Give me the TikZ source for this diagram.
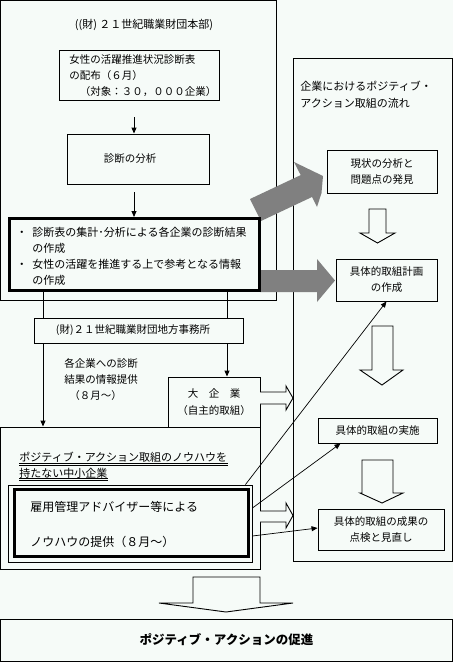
\documentclass[tikz,border=0pt]{standalone}
\usepackage{fontspec}
\setmainfont{Noto Sans CJK JP}
\usetikzlibrary{arrows.meta,calc}
\definecolor{bg}{RGB}{246,251,248}
\newcommand\szA{\fontsize{10.5pt}{16pt}\selectfont}
\newcommand\szB{\fontsize{11pt}{16pt}\selectfont}
\newcommand\szC{\fontsize{12pt}{16pt}\selectfont}
\newcommand\szD{\fontsize{11pt}{17pt}\selectfont}
\newcommand\szE{\fontsize{12.5pt}{16pt}\selectfont}
\begin{document}
\begin{tikzpicture}[x=1pt,y=-1pt,line width=0.9pt,
  frame/.style={draw,fill=bg,inner sep=0pt},
  txt/.style={inner sep=0pt,align=left,font=\szB},
  ctxt/.style={inner sep=0pt,align=center,font=\szA},
  arr/.style={-{Triangle[length=6pt,width=5pt]}},
  hollow/.style={draw,fill=bg,line join=miter},
  hatched/.style={fill=black!50}]
\useasboundingbox (0,0) rectangle (453,662);
\fill[bg] (0,0) rectangle (453,662);

% outer frames
\node[frame,minimum width=276pt,minimum height=300pt] (top) at (138.5,150.5) {};
\node[frame,minimum width=159pt,minimum height=503pt] (rfr) at (372.5,309.5) {};
\node[frame,minimum width=260pt,minimum height=142pt] (low) at (130.5,498) {};
\node[frame,ctxt,font=\szE\bfseries,minimum width=452pt,minimum height=42pt] (bot) at (226.5,640) {ポジティブ・アクションの促進};

% hatched block arrows
\path[hatched] (250,199) -- (300.7,175.1) -- (294,162) -- (323,176) -- (321.5,193) -- (317,207) -- (312,197) -- (261,221) -- cycle;
\path[hatched] (260,270) -- (317,270) -- (317,259) -- (335,280.5) -- (317,302) -- (317,292) -- (260,292) -- cycle;

% headquarters part
\node[txt] (hq) at (144,25) {((財)\ ２１世紀職業財団本部)};
\node[frame,minimum width=160pt,minimum height=50pt] (b1) at (139,75) {};
\node[txt,font=\szA,anchor=west] (b1t) at (69,76) {女性の活躍推進状況診断表\\の配布（６月）\\　（対象：３０，０００企業）};
\node[frame,minimum width=142pt,minimum height=50pt] (b2) at (138,159) {};
\node[txt,font=\szA] (b2t) at (130,159) {診断の分析};
\node[frame,line width=3pt,minimum width=250pt,minimum height=72pt] (b3) at (134.5,254.5) {};
\node[txt,anchor=west] (b3t) at (16,256) {\makebox[16pt][l]{・}診断表の集計･分析による各企業の診断結果\\\hspace*{16pt}の作成\\\makebox[16pt][l]{・}女性の活躍を推進する上で参考となる情報\\\hspace*{16pt}の作成};

\coordinate (p1) at (134,117);
\draw[arr] (p1) -- (p1 |- b2.north);
\coordinate (p2) at (134,192);
\draw[arr] (p2) -- (p2 |- b3.north);

% regional office
\node[frame,minimum width=209pt,minimum height=25pt] (reg) at (138.5,330.5) {};
\node[txt,font=\szA] (regt) at (133,330.5) {(財)２１世紀職業財団地方事務所};
\node[txt,font=\szA,anchor=west] (info) at (64,380) {各企業への診断\\結果の情報提供\\\hspace*{5pt}（８月～）};
\node[frame,ctxt,font={\fontsize{10.5pt}{17pt}\selectfont},minimum width=92pt,minimum height=50pt] (big) at (214,402) {大　企　業\\（自主的取組）};

\coordinate (xl) at (43,0);
\coordinate (xr) at (227,0);
\draw (xl |- b3.south) -- (xl |- reg.north);
\draw[arr] (xl |- reg.south) -- (xl |- low.north);
\draw (xr |- b3.south) -- (xr |- reg.north);
\draw[arr] (xr |- reg.south) -- (xr |- big.north);

% small and medium enterprises
\node[txt,anchor=west] (sme1) at (19,457) {ポジティブ・アクション取組のノウハウを};
\node[txt,anchor=west] (sme2) at (19,473) {持たない中小企業};
\draw[line width=0.7pt] ([yshift=-6pt]sme1.west) -- ([yshift=-6pt]sme1.east);
\draw[line width=0.7pt] ([yshift=-8.2pt]sme1.west) -- ([yshift=-8.2pt]sme1.east);
\draw[line width=0.7pt] ([yshift=-5.5pt]sme2.west) -- ([yshift=-5.5pt]sme2.east);
\draw[line width=0.7pt] ([yshift=-7.7pt]sme2.west) -- ([yshift=-7.7pt]sme2.east);
\node[frame,minimum width=243.5pt,minimum height=77pt] (adv) at (130.25,523.5) {};
\node[draw,line width=3pt,inner sep=0pt,minimum width=234pt,minimum height=67pt] (advin) at (131,523.3) {};
\node[txt,font=\szC,anchor=west] (advt1) at (30,507) {雇用管理アドバイザー等による};
\node[txt,font=\szC,anchor=west] (advt2) at (30,542) {ノウハウの提供（８月～）};

% right flow
\node[txt,font=\szD,anchor=west] (flow) at (300,94.5) {企業におけるポジティブ・\\アクション取組の流れ};
\node[frame,ctxt,minimum width=110pt,minimum height=43pt] (r1) at (382,171.5) {現状の分析と\\問題点の発見};
\node[frame,ctxt,minimum width=101pt,minimum height=42pt] (r2) at (386.5,280) {具体的取組計画\\の作成};
\node[frame,ctxt,minimum width=119pt,minimum height=25pt] (r3) at (377.5,430.5) {具体的取組の実施};
\node[frame,ctxt,minimum width=126pt,minimum height=41pt] (r4) at (381,529.5) {具体的取組の成果の\\点検と見直し};

% hollow arrows
\draw[hollow] (369,209) -- (386,209) -- (386,233) -- (395,233) -- (377.5,243) -- (360,233) -- (369,233) -- cycle;
\draw[hollow] (372,326) -- (393,326) -- (393,370) -- (403,370) -- (382,385) -- (360,370) -- (372,370) -- cycle;
\draw[hollow] (362,460) -- (393,460) -- (393,493) -- (403,493) -- (382,503) -- (360,493) -- (362,493) -- cycle;
\draw[hollow] (193,577) -- (260,577) -- (260,603) -- (293,603) -- (226,612) -- (159,603) -- (193,603) -- cycle;
\draw[hollow] (260,392) -- (286,392) -- (286,386) -- (293,398) -- (286,410) -- (286,404) -- (260,404);
\draw[hollow] (260,511) -- (286,511) -- (286,503) -- (293,515.5) -- (286,528) -- (286,522) -- (260,522);

% thin connectors
\draw[arr,line width=0.7pt] ([xshift=-7pt]adv.north east) -- (r2.south);
\draw[arr,line width=0.7pt] ([yshift=15.5pt]adv.east) -- ([xshift=-37pt]r3.south);
\draw[arr,line width=0.7pt] ([yshift=-12.5pt]adv.east) -- ([yshift=1.5pt]r4.west);
\end{tikzpicture}
\end{document}
